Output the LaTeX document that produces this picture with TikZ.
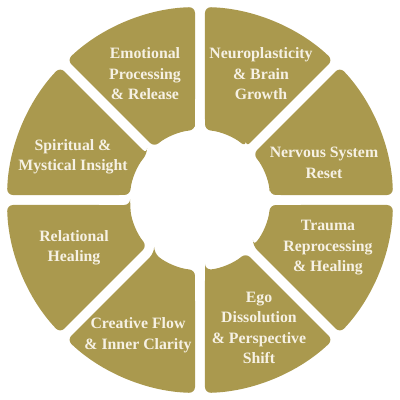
\documentclass[tikz,border=0pt]{standalone}
\usepackage{fontspec}
\setmainfont{Liberation Serif}
\definecolor{goldleaf}{RGB}{170,153,78}
\definecolor{creamtext}{RGB}{246,241,228}
\tikzset{
  petal/.style={fill=goldleaf, rounded corners=6pt},
  petaltext/.style={text=creamtext, align=center, font=\fontsize{15.8}{20.5}\selectfont\bfseries}
}
\begin{document}
\begin{tikzpicture}[x=1pt, y=1pt]
          \useasboundingbox (-200,-200) rectangle (200,200);
          % ring of eight sectors with a gap between them
          \foreach \a in {0,45,...,315} {
            \fill[petal] (\a+4.1:70) -- (\a+1.48:193) arc[start angle=\a+1.48, end angle=\a+43.52, radius=193]
              -- (\a+40.9:70) arc[start angle=\a+40.9, end angle=\a+4.1, radius=70] -- cycle;
          }
          \node[petaltext] (emotional) at (-55,126) {Emotional\\Processing\\\& Release};
          \node[petaltext] (neuro) at (61,126) {Neuroplasticity\\\& Brain\\Growth};
          \node[petaltext] (nervous) at (124,37) {Nervous System\\Reset};
          \node[petaltext] (trauma) at (128,-48) {Trauma\\Reprocessing\\\& Healing};
          \node[petaltext] (ego) at (59,-128) {Ego\\Dissolution\\\& Perspective\\Shift};
          \node[petaltext] (creative) at (-62,-135) {Creative Flow\\\& Inner Clarity};
          \node[petaltext] (relational) at (-126,-48) {Relational\\Healing};
          \node[petaltext] (spiritual) at (-127,43) {Spiritual \&\\Mystical Insight};
        \end{tikzpicture}
\end{document}
